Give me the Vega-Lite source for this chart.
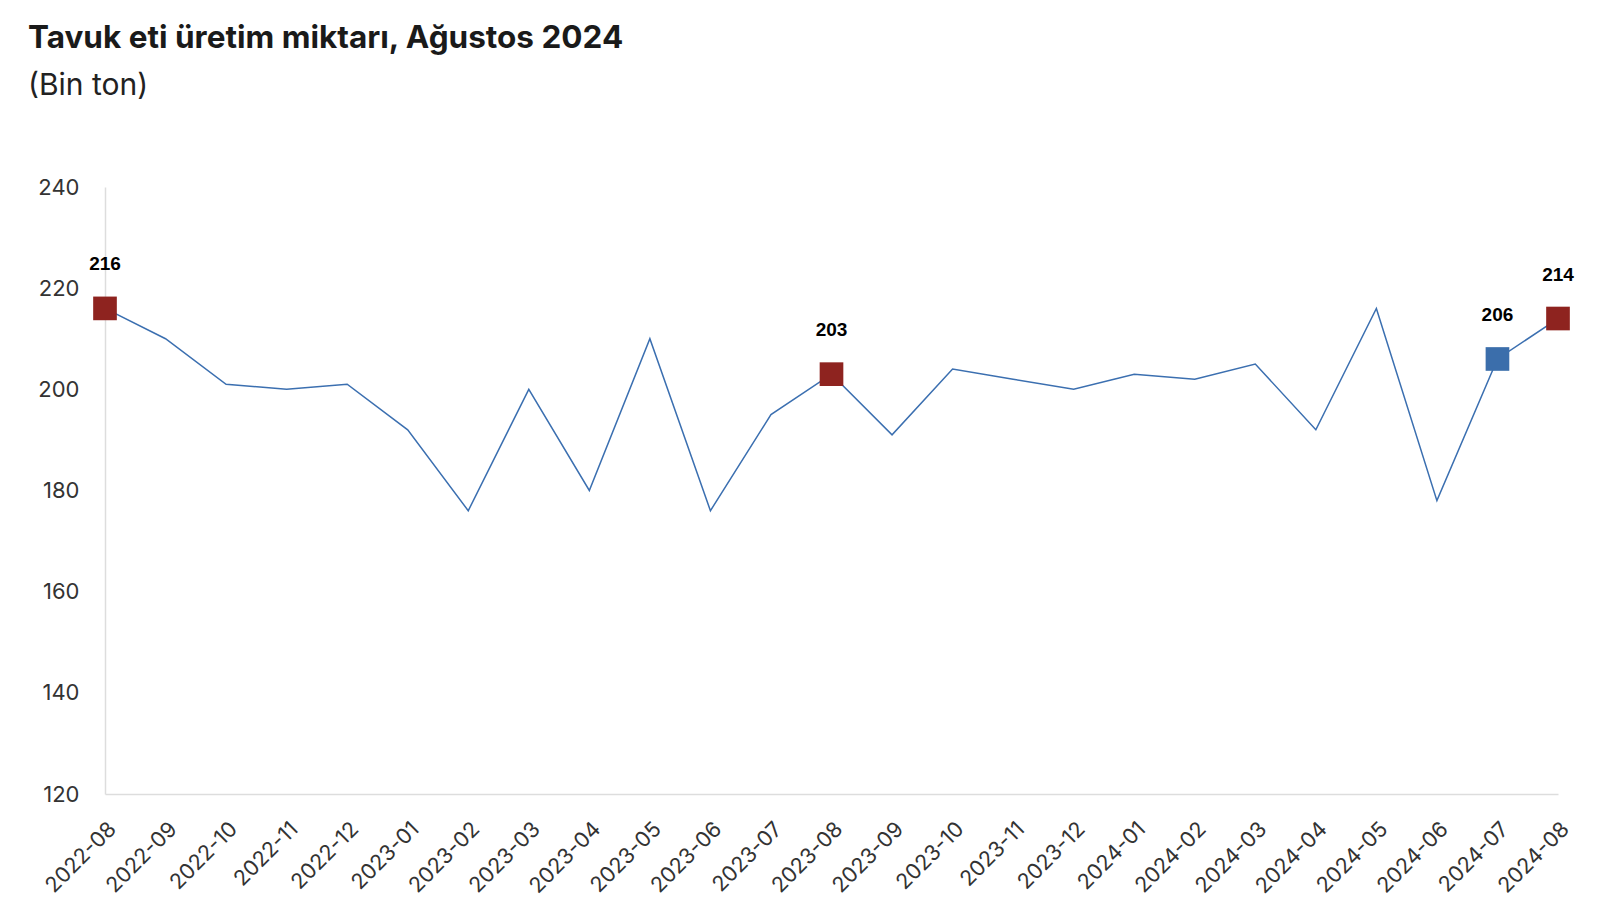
{
  "$schema": "https://vega.github.io/schema/vega-lite/v6.json",
  "autosize": {"type": "none"},
  "width": 1453,
  "height": 607,
  "padding": {"left": 105, "top": 187, "right": 46, "bottom": 126},
  "background": "white",
  "config": {"view": {"stroke": null}, "font": "Inter"},
  "title": {
    "text": "Tavuk eti üretim miktarı, Ağustos 2024",
    "subtitle": "(Bin ton)",
    "anchor": "start",
    "frame": "group",
    "dx": -77,
    "dy": -71,
    "font": "Inter",
    "fontSize": 31.5,
    "fontWeight": "bold",
    "color": "#1a1a1a",
    "subtitleFont": "Inter",
    "subtitleFontSize": 30,
    "subtitleColor": "#222222",
    "subtitlePadding": 17
  },
  "data": {
    "values": [
      {"month": "2022-08", "value": 216, "marker": "yıllık"},
      {"month": "2022-09", "value": 210, "marker": null},
      {"month": "2022-10", "value": 201, "marker": null},
      {"month": "2022-11", "value": 200, "marker": null},
      {"month": "2022-12", "value": 201, "marker": null},
      {"month": "2023-01", "value": 192, "marker": null},
      {"month": "2023-02", "value": 176, "marker": null},
      {"month": "2023-03", "value": 200, "marker": null},
      {"month": "2023-04", "value": 180, "marker": null},
      {"month": "2023-05", "value": 210, "marker": null},
      {"month": "2023-06", "value": 176, "marker": null},
      {"month": "2023-07", "value": 195, "marker": null},
      {"month": "2023-08", "value": 203, "marker": "yıllık"},
      {"month": "2023-09", "value": 191, "marker": null},
      {"month": "2023-10", "value": 204, "marker": null},
      {"month": "2023-11", "value": 202, "marker": null},
      {"month": "2023-12", "value": 200, "marker": null},
      {"month": "2024-01", "value": 203, "marker": null},
      {"month": "2024-02", "value": 202, "marker": null},
      {"month": "2024-03", "value": 205, "marker": null},
      {"month": "2024-04", "value": 192, "marker": null},
      {"month": "2024-05", "value": 216, "marker": null},
      {"month": "2024-06", "value": 178, "marker": null},
      {"month": "2024-07", "value": 206, "marker": "aylık"},
      {"month": "2024-08", "value": 214, "marker": "yıllık"}
    ]
  },
  "encoding": {
    "x": {
      "field": "month",
      "type": "ordinal",
      "scale": {"type": "point", "padding": 0},
      "axis": {
        "title": null,
        "labelAngle": -45,
        "labelAlign": "right",
        "labelBaseline": "top",
        "labelFont": "Inter",
        "labelFontSize": 21.5,
        "labelColor": "#333333",
        "labelPadding": 24,
        "ticks": false,
        "domainColor": "#dddddd",
        "domainWidth": 1.5
      }
    },
    "y": {
      "field": "value",
      "type": "quantitative",
      "scale": {"domain": [120, 240], "nice": false, "zero": false},
      "axis": {
        "title": null,
        "values": [120, 140, 160, 180, 200, 220, 240],
        "grid": false,
        "ticks": false,
        "labelFont": "Inter",
        "labelFontSize": 22,
        "labelColor": "#333333",
        "labelPadding": 26,
        "domainColor": "#dddddd",
        "domainWidth": 1.5
      }
    }
  },
  "layer": [
    {"mark": {"type": "line", "color": "#3b6fb0", "strokeWidth": 1.5}},
    {
      "transform": [{"filter": "datum.marker != null"}],
      "mark": {"type": "square", "size": 560, "opacity": 1, "filled": true},
      "encoding": {
        "color": {
          "field": "marker",
          "type": "nominal",
          "scale": {"domain": ["yıllık", "aylık"], "range": ["#8e231f", "#3b6eab"]},
          "legend": null
        }
      }
    },
    {
      "transform": [{"filter": "datum.marker != null"}],
      "mark": {"type": "text", "dy": -44, "font": "Liberation Sans", "fontSize": 19, "fontWeight": "bold", "color": "#000000", "baseline": "middle"},
      "encoding": {"text": {"field": "value", "type": "quantitative"}}
    }
  ]
}
